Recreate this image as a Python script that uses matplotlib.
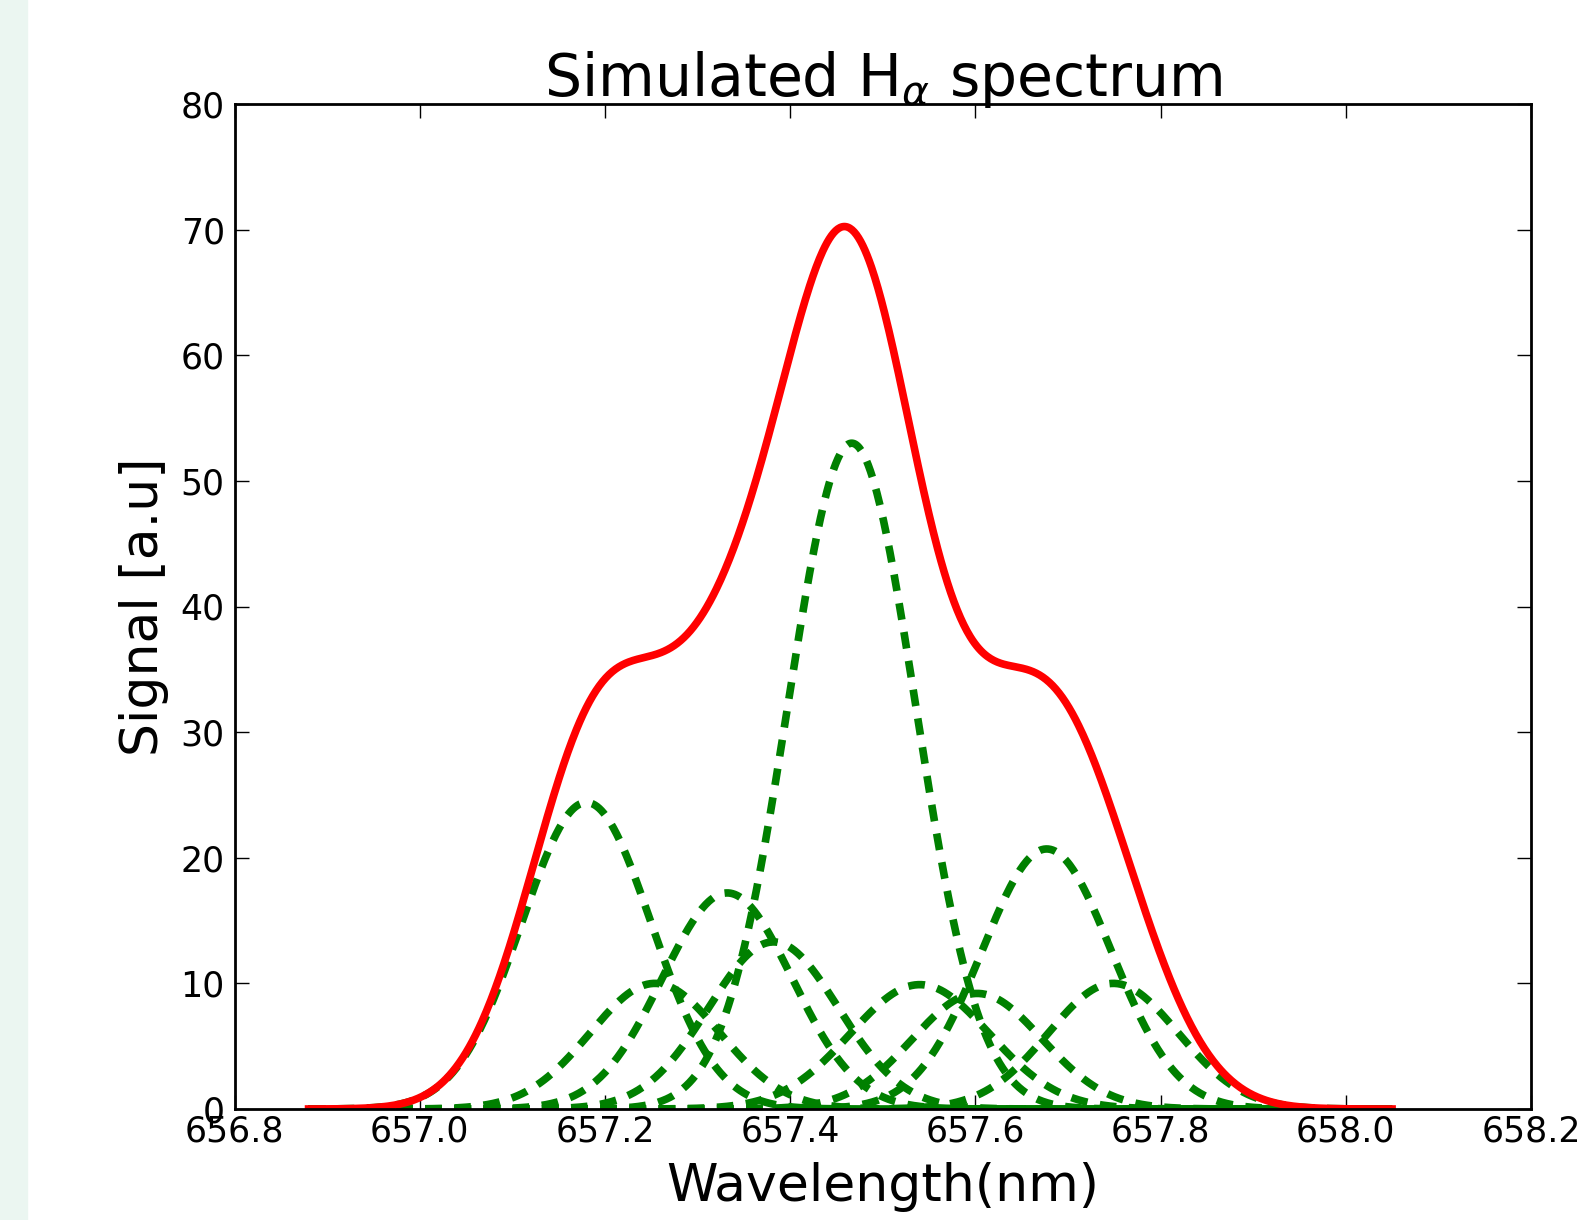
import numpy as np
import matplotlib
matplotlib.use('Agg')
import matplotlib.pyplot as plt
from matplotlib.patches import Rectangle

## Gaussian components ##
centers = [657.180, 657.254, 657.332, 657.382, 657.4665, 657.540, 657.602, 657.677, 657.749]
heights = [24.4, 10.0, 17.2, 13.3, 53.0, 9.9, 9.2, 20.7, 10.0]
widths = [0.070, 0.070, 0.070, 0.070, 0.069, 0.075, 0.070, 0.070, 0.070]

wl_start = 656.88
wl_stop = 658.05

x_ticks = [656.8, 657.0, 657.2, 657.4, 657.6, 657.8, 658.0, 658.2]
y_ticks = [0, 10, 20, 30, 40, 50, 60, 70, 80]

wl = np.linspace(wl_start, wl_stop, 1000)
components = []
for c, h, s in zip(centers, heights, widths):
    components.append(h * np.exp(-(wl - c) ** 2 / (2 * s ** 2)))
total = np.sum(components, axis=0)

fig = plt.figure(figsize=(15.77, 12.2), dpi=100)
fig.add_artist(Rectangle((0, 0), 27 / 1577, 1, transform=fig.transFigure,
                         color='#ebf6f1', zorder=-1))
ax = fig.add_axes([234.5 / 1577, 1 - 1109 / 1220, 1296.5 / 1577, 1005 / 1220])

for comp in components:
    ax.plot(wl, comp, color='g', linewidth=5.5, linestyle=(0, (12 / 5.5, 9 / 5.5)),
            dash_capstyle='butt')
ax.plot(wl, total, color='r', linewidth=5.5)

ax.set_xlim(656.8, 658.2)
ax.set_ylim(0, 80)
ax.set_xticks(x_ticks)
ax.set_yticks(y_ticks)
ax.set_xticklabels(['%.1f' % t for t in x_ticks])
ax.tick_params(direction='in', top=True, right=True, length=10, width=1, labelsize=25)
ax.tick_params(axis='x', pad=4)
ax.tick_params(axis='y', pad=7)
for sp in ax.spines.values():
    sp.set_linewidth(2)

ax.set_title(r'Simulated H$_\alpha$ spectrum', fontsize=42, pad=6)
ax.set_xlabel('Wavelength(nm)', fontsize=37.5, labelpad=10)
ax.set_ylabel('Signal [a.u]', fontsize=37.5, labelpad=8)

plt.savefig('out.png', dpi=100)
